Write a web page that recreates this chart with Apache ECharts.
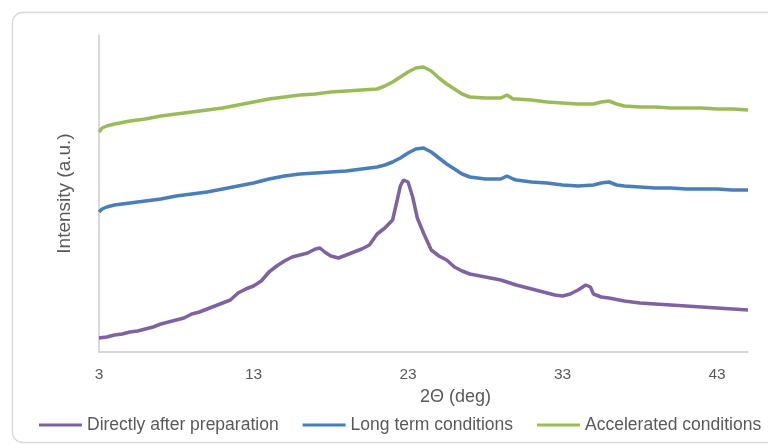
<!DOCTYPE html>
<html>
<head>
<meta charset="utf-8">
<style>
  html, body { margin: 0; padding: 0; background: #ffffff; }
  #chart { width: 768px; height: 445px; }
</style>
<script src="https://cdn.jsdelivr.net/npm/echarts@6/dist/echarts.min.js"></script>
</head>
<body>
<div id="chart"></div>
<script>
// X-ray powder diffraction patterns (offset for clarity), intensity in arbitrary units

const xTicks = [3, 13, 23, 33, 43];

// Directly after preparation
const thetaFresh = [3, 3.5, 4, 4.5, 5, 5.5, 6, 6.5, 7, 7.5, 8, 8.5, 9, 9.5, 10, 10.5, 11, 11.5,
  12, 12.5, 13, 13.5, 14, 14.5, 15, 15.5, 16, 16.5, 17, 17.3, 17.6, 18, 18.5, 19, 19.5, 20, 20.5,
  21, 21.5, 22, 22.3, 22.5, 22.7, 23, 23.3, 23.6, 24, 24.5, 25, 25.5, 26, 26.5, 27, 28, 29, 30,
  31, 32, 32.5, 33, 33.5, 34, 34.5, 34.8, 35, 35.5, 36, 37, 38, 39, 40, 41, 42, 43, 44, 45];
const intensityFresh = [14, 15, 17, 18, 20, 21, 23, 25, 28, 30, 32, 34, 38, 40, 43, 46, 49, 52,
  59, 63, 66, 71, 80, 86, 91, 95, 97, 99, 103, 104, 100, 96, 94, 97, 100, 103, 107,
  118, 124, 132, 152, 166, 172, 170, 155, 134, 119, 102, 96, 92, 85, 81, 78, 75, 72, 67,
  63, 59, 57, 56, 58, 62, 67, 65, 58, 55, 54, 51, 49, 48, 47, 46, 45, 44, 43, 42];

// Long term conditions
const thetaLong = [3, 3.2, 3.5, 4, 5, 6, 7, 8, 9, 10, 11, 12, 13, 14, 15, 16, 17, 18, 19, 20, 21,
  21.5, 22, 22.5, 23, 23.5, 24, 24.5, 25, 25.5, 26, 26.5, 27, 28, 29, 29.4, 29.8, 30, 31, 32, 33,
  34, 35, 35.5, 36, 36.5, 37, 38, 39, 40, 41, 42, 43, 44, 45];
const intensityLong = [140, 143, 145, 147, 149, 151, 153, 156, 158, 160, 163, 166, 169, 173, 176,
  178, 179, 180, 181, 183, 185, 187, 190, 194, 199, 203, 204, 200, 194, 188, 183, 178, 175, 173,
  173, 176, 173, 172, 170, 169, 167, 166, 167, 169, 170, 167, 166, 165, 164, 164, 163, 163, 163,
  162, 162];

// Accelerated conditions
const thetaAccel = thetaLong;
const intensityAccel = [220, 224, 226, 228, 231, 233, 236, 238, 240, 242, 244, 247, 250, 253, 255,
  257, 258, 260, 261, 262, 263, 266, 270, 275, 280, 284, 285, 281, 274, 268, 263, 258, 255, 254,
  254, 257, 253, 253, 252, 250, 249, 248, 248, 250, 251, 248, 246, 245, 245, 244, 244, 244, 243,
  243, 242];

const seriesNames = ['Directly after preparation', 'Long term conditions', 'Accelerated conditions'];
const seriesColors = ['#7f62a1', '#4a7ebb', '#9bbb59'];

function pairs(xs, ys) {
  return xs.map((x, i) => [x, ys[i]]);
}

const textColor = '#595959';
const fontFamily = '"Liberation Sans", Arial, sans-serif';

const chart = echarts.init(document.getElementById('chart'));
chart.setOption({
  animation: false,
  backgroundColor: '#ffffff',
  textStyle: { fontFamily: fontFamily, color: textColor },
  graphic: [{
    type: 'rect',
    silent: true,
    z: -10,
    shape: { x: 12.5, y: 12.5, width: 775, height: 430, r: 10 },
    style: { fill: 'none', stroke: '#d9d9d9', lineWidth: 1.3 }
  }],
  grid: { left: 99, right: 20, top: 35, bottom: 93, containLabel: false },
  legend: {
    left: 34,
    top: 411,
    width: 760,
    orient: 'horizontal',
    icon: 'rect',
    itemWidth: 43,
    itemHeight: 3,
    itemGap: 24,
    data: seriesNames,
    textStyle: { fontSize: 17.5, color: textColor, fontFamily: fontFamily }
  },
  xAxis: {
    type: 'value',
    min: 3,
    max: 45,
    name: '2\u0398 (deg)',
    nameLocation: 'middle',
    nameGap: 27,
    nameTextStyle: { fontSize: 18, color: textColor, fontFamily: fontFamily, padding: [0, 0, 0, 64] },
    axisLine: { show: true, lineStyle: { color: '#cccccc', width: 1.5 } },
    axisTick: { show: false },
    splitLine: { show: false },
    axisLabel: {
      customValues: xTicks,
      margin: 15,
      fontSize: 15.5,
      color: textColor,
      fontFamily: fontFamily
    }
  },
  yAxis: {
    type: 'value',
    min: 0,
    max: 317,
    name: 'Intensity (a.u.)',
    nameLocation: 'middle',
    nameGap: 25,
    nameRotate: 90,
    nameTextStyle: { fontSize: 19, color: textColor, fontFamily: fontFamily },
    axisLine: { show: true, lineStyle: { color: '#cccccc', width: 1.5 } },
    axisTick: { show: false },
    axisLabel: { show: false },
    splitLine: { show: false }
  },
  series: [
    { name: seriesNames[0], data: pairs(thetaFresh, intensityFresh) },
    { name: seriesNames[1], data: pairs(thetaLong, intensityLong) },
    { name: seriesNames[2], data: pairs(thetaAccel, intensityAccel) }
  ].map((s, i) => ({
    type: 'line',
    name: s.name,
    data: s.data,
    showSymbol: false,
    symbol: 'none',
    color: seriesColors[i],
    lineStyle: { color: seriesColors[i], width: 3.5 },
    z: 2 + i
  }))
});
</script>
</body>
</html>
